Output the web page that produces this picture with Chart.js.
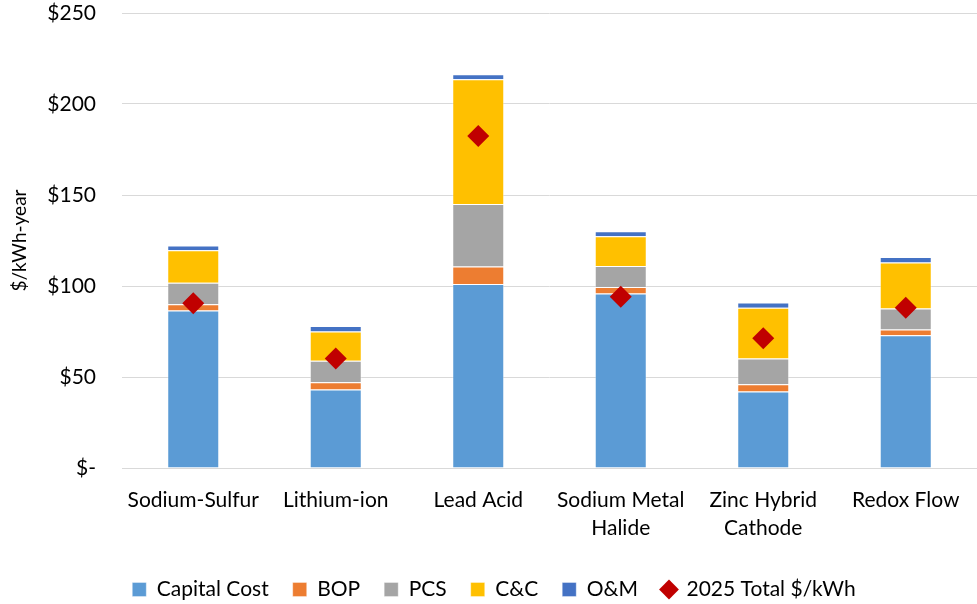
<!DOCTYPE html>
<html>
<head>
<meta charset="utf-8">
<script src="https://cdn.jsdelivr.net/npm/chart.js@4"></script>
<style>
  html, body { margin: 0; padding: 0; background: #fff; }
  #wrap { width: 977px; height: 604px; }
</style>
</head>
<body>
<div id="wrap"><canvas id="chart" width="977" height="604"></canvas></div>
<script>
const categories = ['Sodium-Sulfur', 'Lithium-ion', 'Lead Acid', ['Sodium Metal', 'Halide'], ['Zinc Hybrid', 'Cathode'], 'Redox Flow'];
const capitalCost = [86.6, 43.2, 101.1, 95.9, 42.1, 73.0];
const bop = [3.4, 3.9, 9.6, 3.5, 3.9, 3.1];
const pcs = [11.8, 11.8, 34.4, 11.6, 14.2, 11.5];
const cc = [17.8, 16.1, 68.5, 16.3, 27.9, 25.3];
const om = [2.7, 3.0, 2.8, 2.8, 2.8, 3.0];
const total2025 = [90.5, 60.2, 182.4, 94.1, 71.3, 88.0];

const font = 'Lato, "Open Sans", sans-serif';

function bar(label, data, color) {
  return {
    type: 'bar', label, data, backgroundColor: color,
    borderColor: 'rgba(255,255,255,0.35)', borderWidth: 1,
    pointStyle: 'rect', order: 1, stack: 's',
    barPercentage: 1, categoryPercentage: 0.365
  };
}

new Chart(document.getElementById('chart'), {
  data: {
    labels: categories,
    datasets: [
      bar('Capital Cost', capitalCost, '#5B9BD5'),
      bar('BOP', bop, '#ED7D31'),
      bar('PCS', pcs, '#A5A5A5'),
      bar('C&C', cc, '#FFC000'),
      bar('O&M', om, '#4472C4'),
      {
        type: 'line', label: '2025 Total $/kWh', data: total2025,
        showLine: false, pointStyle: 'rectRot', pointRadius: 11, pointHoverRadius: 11,
        backgroundColor: '#C00000', borderColor: '#C00000', borderWidth: 0, order: 0
      }
    ]
  },
  options: {
    responsive: false,
    animation: false,
    layout: { autoPadding: false, padding: { top: 4, right: -3, left: 8, bottom: -6 } },
    plugins: {
      tooltip: { enabled: false },
      legend: {
        position: 'bottom',
        labels: {
          usePointStyle: true,
          boxWidth: 14, boxHeight: 14,
          padding: 24,
          color: '#000',
          font: { family: font, size: 21 },
          sort: (a, b) => a.datasetIndex - b.datasetIndex
        }
      }
    },
    scales: {
      x: {
        stacked: true,
        grid: { display: false },
        border: { color: '#D9D9D9' },
        ticks: { color: '#000', font: { family: font, size: 21, lineHeight: 1.35 }, padding: 10, maxRotation: 0 },
        afterFit: s => { s.height = 87; }
      },
      y: {
        stacked: true,
        min: 0, max: 250,
        ticks: {
          stepSize: 50, color: '#000', padding: 26,
          font: { family: font, size: 21 },
          callback: v => v === 0 ? '$-' : '$' + v
        },
        grid: { color: '#D9D9D9', drawTicks: false },
        border: { display: false },
        title: { display: true, text: '$/kWh-year', color: '#000', font: { family: font, size: 19 }, padding: 0 },
        afterFit: s => { s.width = 114; s.paddingTop = 13; s.paddingBottom = 0; }
      }
    }
  }
});
</script>
</body>
</html>
